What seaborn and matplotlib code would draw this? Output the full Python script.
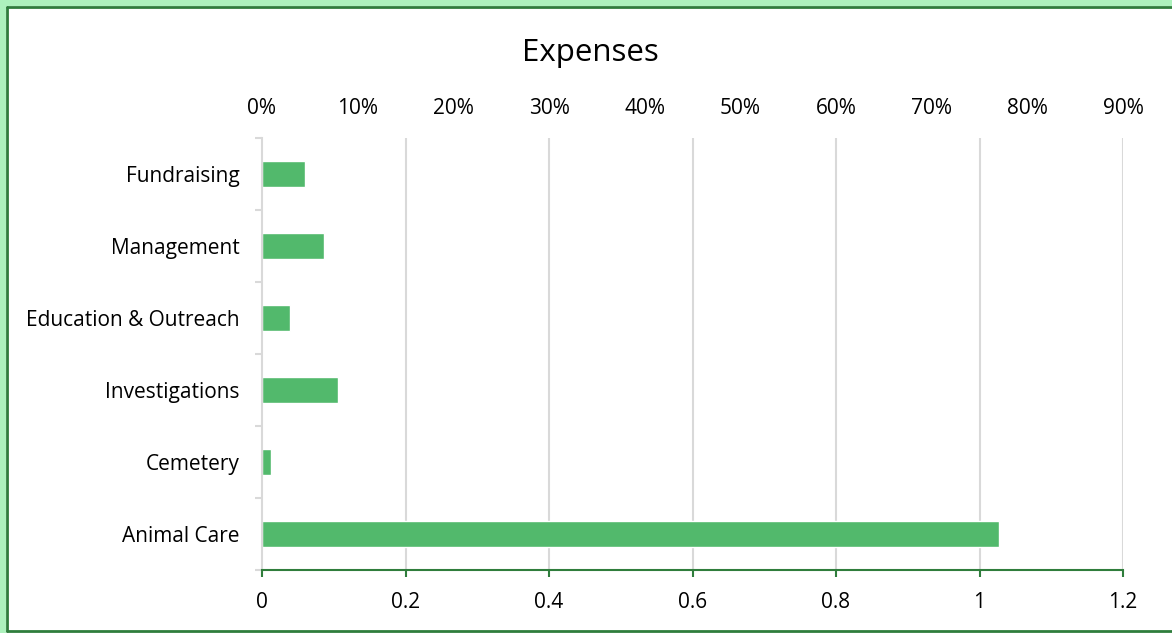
import matplotlib
matplotlib.use("Agg")
import matplotlib.pyplot as plt
import pandas as pd
import numpy as np
import seaborn as sns
from matplotlib.ticker import FuncFormatter
from matplotlib.patches import Rectangle
from matplotlib.lines import Line2D

# data
categories = ["Fundraising", "Management", "Education & Outreach",
              "Investigations", "Cemetery", "Animal Care"]
values = [0.060, 0.086, 0.0395, 0.106, 0.0126, 1.027]
bottom_ticks = [0, 0.2, 0.4, 0.6, 0.8, 1.0, 1.2]
top_ticks = [0.0, 0.1, 0.2, 0.3, 0.4, 0.5, 0.6, 0.7, 0.8, 0.9]

df = pd.DataFrame({"cat": categories, "val": values})

sns.set_style("white")
plt.rcParams['font.family'] = ['Open Sans', 'DejaVu Sans']
plt.rcParams['text.color'] = 'black'
plt.rcParams['xtick.labelcolor'] = 'black'
plt.rcParams['ytick.labelcolor'] = 'black'

bar_green = "#52b96c"
axis_green = "#2f7d3c"
grid_grey = "#d9d9d9"

fig = plt.figure(figsize=(11.72, 6.33), dpi=100)
ax = fig.add_axes([262/1172, 1 - 570/633, (1123 - 262)/1172, (570 - 138)/633])

sns.barplot(data=df, x="val", y="cat", orient="h", order=categories,
            color=bar_green, saturation=1, width=0.37, ax=ax)

ax.set_xlim(0, 1.2)
ax.set_ylim(len(categories) - 0.5, -0.5)
ax.set_xticks(bottom_ticks)
ax.xaxis.set_major_formatter(FuncFormatter(lambda v, _: '{:g}'.format(v)))
ax.set_xlabel("")
ax.set_ylabel("")

for v in bottom_ticks[1:]:
    ax.axvline(v, color=grid_grey, linewidth=1.5, zorder=0)

for s in ["top", "right"]:
    ax.spines[s].set_visible(False)
ax.spines["left"].set_color(grid_grey)
ax.spines["left"].set_linewidth(1.5)
ax.spines["bottom"].set_color(axis_green)
ax.spines["bottom"].set_linewidth(1.5)

ax.tick_params(axis="x", which="major", direction="out", length=5, width=1.5,
               color=axis_green, labelsize=15, pad=11, bottom=True)
ax.tick_params(axis="y", which="major", length=0, labelsize=15, pad=16)
ax.set_yticks(np.arange(-0.5, len(categories), 1), minor=True)
ax.tick_params(axis="y", which="minor", direction="out", length=5, width=1.5,
               color=grid_grey, left=True)

# secondary axis on top, percentage scale
ax2 = ax.twiny()
ax2.set_xlim(0, 0.9)
ax2.set_xticks(top_ticks)
ax2.xaxis.set_major_formatter(FuncFormatter(lambda v, _: '{:.0%}'.format(v)))
ax2.tick_params(axis="x", length=0, labelsize=15, pad=14)
for s in ax2.spines.values():
    s.set_visible(False)

fig.text(590/1172, 1 - 53/633, "Expenses", ha="center", va="center", fontsize=22.5)

# frame around the chart: light band on left and top, dark line inside
fig.patches.append(Rectangle((0, 0), 6/1172, 1, transform=fig.transFigure,
                             facecolor="#adf2bd", edgecolor="none", zorder=-1))
fig.patches.append(Rectangle((0, 1 - 6/633), 1, 6/633, transform=fig.transFigure,
                             facecolor="#adf2bd", edgecolor="none", zorder=-1))
x0, y_top, y_bot = 7/1172, 1 - 7/633, 1 - 631/633
for xs, ys in [([x0, x0], [y_bot, y_top]), ([x0, 1], [y_top, y_top]),
               ([x0, 1], [y_bot, y_bot])]:
    fig.add_artist(Line2D(xs, ys, transform=fig.transFigure,
                          color=axis_green, linewidth=2))

plt.savefig("out.png", dpi=100)
